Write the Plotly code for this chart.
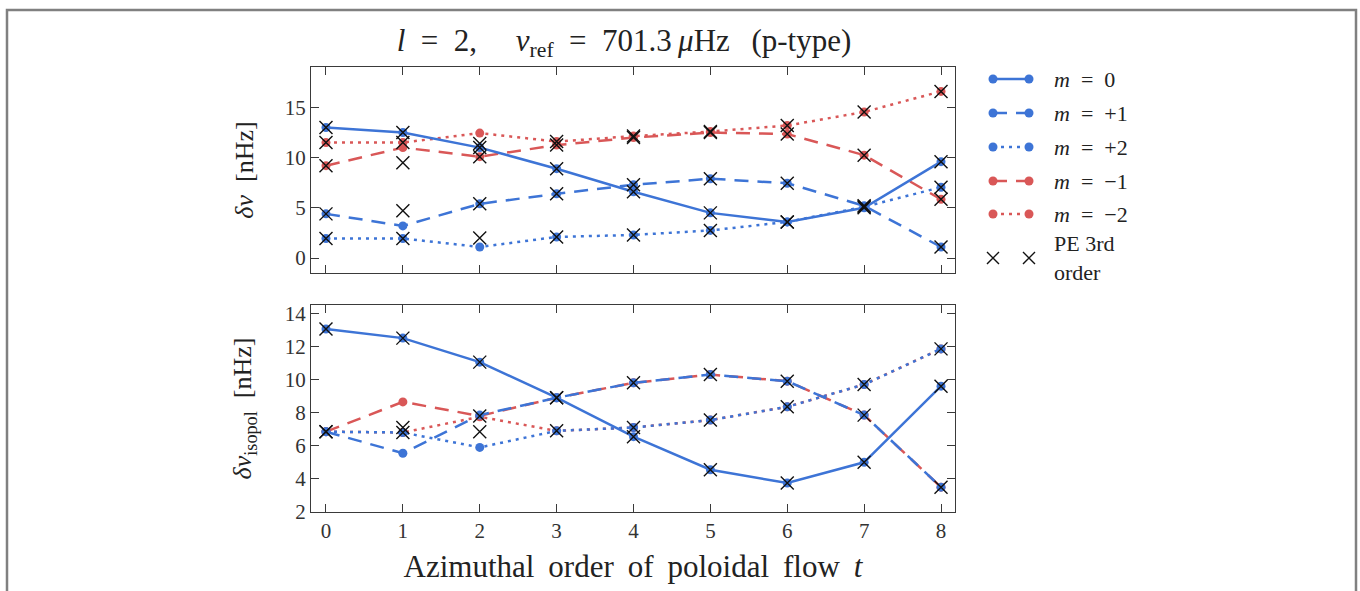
import plotly.graph_objects as go

# ---------------- data ----------------
t = [0, 1, 2, 3, 4, 5, 6, 7, 8]

# top panel: delta nu [nHz]
top_m0 = [13.0, 12.5, 11.0, 8.9, 6.6, 4.5, 3.6, 5.0, 9.6]
top_mp1 = [4.4, 3.2, 5.4, 6.4, 7.3, 7.9, 7.45, 5.2, 1.1]
top_mp2 = [1.95, 1.95, 1.1, 2.1, 2.3, 2.75, 3.6, 5.1, 7.05]
top_mm1 = [9.2, 11.0, 10.1, 11.25, 12.0, 12.5, 12.35, 10.25, 5.85]
top_mm2 = [11.5, 11.5, 12.45, 11.6, 12.15, 12.6, 13.2, 14.55, 16.6]

# top panel: PE 3rd order
pe_top_m0 = [13.0, 12.5, 11.0, 8.9, 6.6, 4.5, 3.6, 5.0, 9.6]
pe_top_mp1 = [4.4, 4.7, 5.4, 6.4, 7.3, 7.9, 7.45, 5.2, 1.1]
pe_top_mp2 = [1.95, 1.95, 2.0, 2.1, 2.3, 2.75, 3.6, 5.1, 7.05]
pe_top_mm1 = [9.2, 9.5, 10.1, 11.25, 12.0, 12.5, 12.35, 10.25, 5.85]
pe_top_mm2 = [11.5, 11.5, 11.4, 11.6, 12.15, 12.6, 13.2, 14.55, 16.6]

# bottom panel: delta nu isopol [nHz]
bot_m0 = [13.05, 12.5, 11.05, 8.9, 6.55, 4.55, 3.75, 5.0, 9.6]
bot_mp1 = [6.85, 5.55, 7.85, 8.9, 9.8, 10.3, 9.9, 7.85, 3.5]
bot_mp2 = [6.85, 6.8, 5.9, 6.9, 7.1, 7.55, 8.35, 9.7, 11.85]
bot_mm1 = [6.85, 8.65, 7.8, 8.9, 9.8, 10.3, 9.9, 7.85, 3.5]
bot_mm2 = [6.85, 6.8, 7.75, 6.9, 7.1, 7.55, 8.35, 9.7, 11.85]

# bottom panel: PE 3rd order
pe_bot_m0 = [13.05, 12.5, 11.05, 8.9, 6.55, 4.55, 3.75, 5.0, 9.6]
pe_bot_pm1 = [6.85, 7.1, 7.8, 8.9, 9.8, 10.3, 9.9, 7.85, 3.5]
pe_bot_pm2 = [6.85, 6.8, 6.85, 6.9, 7.1, 7.55, 8.35, 9.7, 11.85]

x_ticks = [0, 1, 2, 3, 4, 5, 6, 7, 8]
top_ticks = [0, 5, 10, 15]
bot_ticks = [2, 4, 6, 8, 10, 12, 14]

# ---------------- styles ----------------
BLUE = "#3d74d6"
RED = "#d95757"
FONT = "Liberation Serif"
AX = "#3a3a3a"
DASH = "14px,9px"
DOT = "3px,5px"
LW = 2.5
MS = 9
EN = "\u2002"
SP = " \u2009"

# series drawn red first, blue on top
series = [
    ("m=-2", top_mm2, bot_mm2, RED, DOT),
    ("m=-1", top_mm1, bot_mm1, RED, DASH),
    ("m=+2", top_mp2, bot_mp2, BLUE, DOT),
    ("m=+1", top_mp1, bot_mp1, BLUE, DASH),
    ("m=0", top_m0, bot_m0, BLUE, "solid"),
]
pe_top = [pe_top_mm2, pe_top_mm1, pe_top_mp2, pe_top_mp1, pe_top_m0]
pe_bot = [pe_bot_pm2, pe_bot_pm1, pe_bot_m0]

fig = go.Figure()
for name, vt, vb, col, dash in series:
    for vals, xa, ya in ((vt, "x", "y"), (vb, "x2", "y2")):
        fig.add_trace(go.Scatter(
            x=t, y=vals, xaxis=xa, yaxis=ya, mode="lines+markers", name=name,
            line=dict(color=col, width=LW, dash=dash),
            marker=dict(color=col, size=MS, symbol="circle"),
            showlegend=False, hoverinfo="skip"))

pe_marker = dict(symbol="x-thin", size=13, line=dict(color="#111", width=1.4))
for vals in pe_top:
    fig.add_trace(go.Scatter(x=t, y=vals, xaxis="x", yaxis="y", mode="markers",
                             marker=pe_marker, showlegend=False, hoverinfo="skip"))
for vals in pe_bot:
    fig.add_trace(go.Scatter(x=t, y=vals, xaxis="x2", yaxis="y2", mode="markers",
                             marker=pe_marker, showlegend=False, hoverinfo="skip"))

# ---------------- layout geometry (page pixel coordinates) ----------------
W, H = 1360, 591
L, R, T, B = 311, 955, 67, 512


def px(xp):
    return (xp - L) / (R - L)


def py(yp):
    return (B - yp) / (B - T)


axis_common = dict(
    showline=True, linecolor=AX, linewidth=1.3, mirror="ticks",
    ticks="inside", ticklen=8, tickwidth=1.3, tickcolor=AX,
    showgrid=False, zeroline=False,
    tickfont=dict(family=FONT, size=21, color="#333"),
)

top_dom = [py(273), 1.0]
bot_dom = [0.0, py(305)]

fig.update_layout(
    width=W, height=H,
    margin=dict(l=L, r=W - R, t=T, b=H - B),
    paper_bgcolor="white", plot_bgcolor="white",
    showlegend=False,
    title=dict(
        text="<i>l</i>" + EN + "=" + EN + "2,\u2003\u2005<i>ν</i><sub>ref</sub>" + EN + "=" + EN
             + "701.3\u2009<i>μ</i>Hz\u2002\u2009(p-type)",
        x=px(624), xref="paper", xanchor="center",
        y=1 - 40 / H, yref="container", yanchor="middle",
        font=dict(family=FONT, size=31, color="#222")),
    xaxis=dict(axis_common, domain=[0, 1], anchor="y", range=[-0.195, 8.182],
               tickvals=x_ticks, showticklabels=False),
    yaxis=dict(axis_common, domain=top_dom, anchor="x", range=[-1.49, 19.03],
               tickvals=top_ticks,
               title=dict(text="<i>δν</i>\u2002[nHz]", standoff=23,
                          font=dict(family=FONT, size=26, color="#222"))),
    xaxis2=dict(axis_common, domain=[0, 1], anchor="y2", range=[-0.195, 8.182],
                tickvals=x_ticks,
                title=dict(text=SP.join(["Azimuthal", "order", "of", "poloidal", "flow", "<i>t</i>"]),
                           standoff=12,
                           font=dict(family=FONT, size=31, color="#222"))),
    yaxis2=dict(axis_common, domain=bot_dom, anchor="x2", range=[2.0, 14.5],
                tickvals=bot_ticks,
                title=dict(text="<i>δν</i><sub>isopol</sub>\u2002[nHz]", standoff=25,
                           font=dict(family=FONT, size=26, color="#222"))),
)

# ---------------- outer frame ----------------
shapes = [dict(type="rect", xref="paper", yref="paper",
               x0=px(7), x1=px(1356), y0=py(640), y1=py(10),
               line=dict(color="#808080", width=2.5), fillcolor="rgba(0,0,0,0)")]

# ---------------- custom legend ----------------
legend_items = [
    ("<i>m</i>" + EN + "=" + EN + "0", BLUE, "solid"),
    ("<i>m</i>" + EN + "=" + EN + "+1", BLUE, DASH),
    ("<i>m</i>" + EN + "=" + EN + "+2", BLUE, DOT),
    ("<i>m</i>" + EN + "=" + EN + "−1", RED, DASH),
    ("<i>m</i>" + EN + "=" + EN + "−2", RED, DOT),
]
leg_y = [79, 113, 147, 181, 214]
lx0, lx1, ltext = 993, 1029, 1052
annotations = []
for (txt, col, dash), yy in zip(legend_items, leg_y):
    shapes.append(dict(type="line", xref="paper", yref="paper",
                       x0=px(lx0), x1=px(lx1), y0=py(yy), y1=py(yy),
                       line=dict(color=col, width=LW, dash=dash)))
    for cx in (lx0, lx1):
        shapes.append(dict(type="circle", xref="paper", yref="paper",
                           xsizemode="pixel", ysizemode="pixel",
                           xanchor=px(cx), yanchor=py(yy),
                           x0=-4.5, x1=4.5, y0=-4.5, y1=4.5,
                           fillcolor=col, line=dict(color=col, width=0)))
    annotations.append(dict(text=txt, xref="paper", yref="paper",
                            x=px(ltext), y=py(yy), xanchor="left", yanchor="middle",
                            showarrow=False, font=dict(family=FONT, size=22, color="#222")))

pe_y = 258
for cx in (lx0, lx1):
    s = 6
    path = "M {a},{b} L {c},{d} M {a},{d} L {c},{b}".format(
        a=px(cx - s), b=py(pe_y - s), c=px(cx + s), d=py(pe_y + s))
    shapes.append(dict(type="path", xref="paper", yref="paper", path=path,
                       line=dict(color="#111", width=1.4)))
annotations.append(dict(text="PE 3rd<br>order", xref="paper", yref="paper",
                        x=px(ltext), y=py(pe_y), xanchor="left", yanchor="middle",
                        align="left", showarrow=False,
                        font=dict(family=FONT, size=22, color="#222")))

fig.update_layout(shapes=shapes, annotations=annotations)

fig.write_html("out.html", config={"displayModeBar": False},
               post_script="document.body.style.margin='0';document.body.style.overflow='hidden';")
